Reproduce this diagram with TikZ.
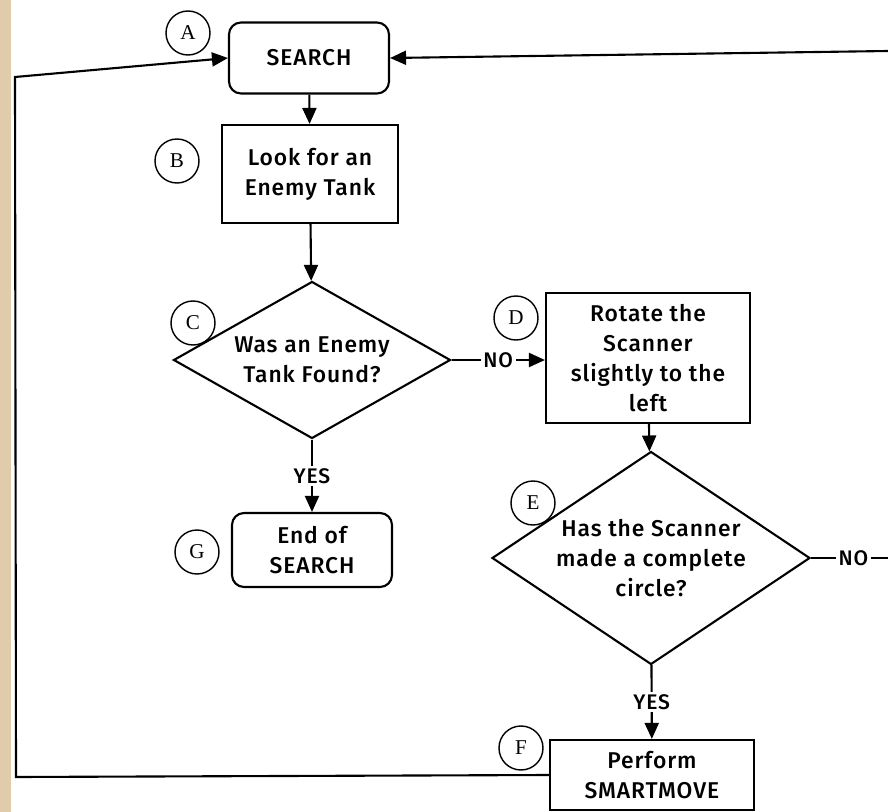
\documentclass[tikz,border=0pt]{standalone}
\usepackage{fontspec}
\newfontfamily\chartfont{Fira Sans}[UprightFont=* Medium, LetterSpace=4]
\newfontfamily\tagfont{Liberation Serif}
\usetikzlibrary{shapes.geometric, arrows.meta, positioning}
\definecolor{scanedge}{RGB}{224,204,170}
\tikzset{
	chartbox/.style={draw, rectangle, line width=1.2pt, align=center, inner sep=0pt,
		font=\chartfont\fontsize{13}{17}\selectfont}
}
\tikzset{
	termbox/.style={chartbox, rounded corners=2.4mm},
	askbox/.style={chartbox, diamond, aspect=1.6},
	tagmark/.style={draw, circle, line width=0.8pt, minimum size=8.8mm, inner sep=0pt,
		font=\tagfont\fontsize{12}{12}\selectfont},
	flow/.style={line width=1.2pt, -{Triangle[length=3.2mm,width=2.8mm]}},
	flowlabel/.style={fill=white, inner sep=1.5pt, font=\chartfont\fontsize{12}{12}\selectfont}
}

\begin{document}
\begin{tikzpicture}[x=0.2mm, y=-0.2mm]
  \useasboundingbox (0,0) rectangle (888,812);
  % scanned page edge
  \fill[scanedge] (0,0) rectangle (11,812);
  % steps
  \node[termbox, minimum width=32mm, minimum height=14.2mm] (search) at (309,58) {SEARCH};
  \node[chartbox, minimum width=35.2mm, minimum height=19.6mm] (look) at (310,174) {Look for an\\Enemy Tank};
  \node[askbox, minimum width=55.4mm, minimum height=31.4mm] (found) at (312,360) {Was an Enemy\\Tank Found?};
  \node[chartbox, minimum width=40.8mm, minimum height=26mm] (rotate) at (648,358) {Rotate the\\Scanner\\slightly to the\\left};
  \node[askbox, minimum width=63.6mm, minimum height=42.6mm] (circle) at (651,558) {Has the Scanner\\made a complete\\circle?};
  \node[termbox, minimum width=32mm, minimum height=14.8mm] (endsearch) at (312,550) {End of\\SEARCH};
  \node[chartbox, minimum width=40.8mm, minimum height=14mm] (smart) at (652,775) {Perform\\SMARTMOVE};
  % step letters
  \node[tagmark] (tagA) at (188,33) {A};
  \node[tagmark] (tagB) at (177,161) {B};
  \node[tagmark] (tagC) at (193,323) {C};
  \node[tagmark] (tagD) at (516,318) {D};
  \node[tagmark] (tagE) at (533,503) {E};
  \node[tagmark] (tagF) at (521,748) {F};
  \node[tagmark] (tagG) at (197,552) {G};
  % flow
  \draw[flow] (search) -- (look);
  \draw[flow] (look) -- (found);
  \draw[flow] (found) -- node[flowlabel] {NO} (found -| rotate.west);
  \draw[flow] (rotate) -- (circle);
  \draw[flow] (found) -- node[flowlabel] {YES} (endsearch);
  \draw[flow] (circle) -- node[flowlabel] {YES} (smart);
  \coordinate (noexit) at (888,558);
  \draw[line width=1.2pt] (circle.east) -- node[flowlabel, pos=0.55] {NO} (noexit);
  % loops back to search
  \coordinate (loopin) at (888,51);
  \draw[flow] (loopin) -- (search.east);
  \coordinate (loopbl) at (16,777);
  \coordinate (looptl) at (15,77);
  \draw[flow] (smart.west) -- (loopbl) -- (looptl) -- (search.west);
\end{tikzpicture}
\end{document}
